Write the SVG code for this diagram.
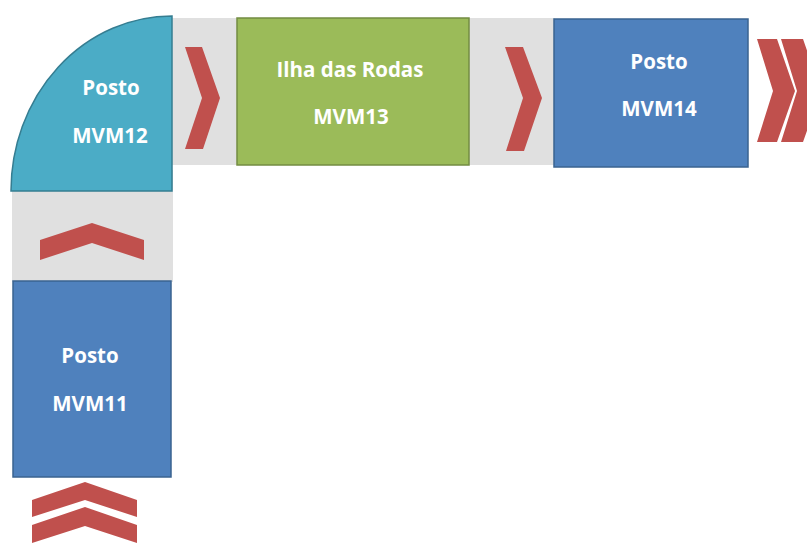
<svg xmlns="http://www.w3.org/2000/svg" width="807" height="543" viewBox="0 0 807 543">
  <style>
    .lane { fill: #e0e0e0; }
    .chev { fill: #c0504d; }
    .blue { fill: #4f81bd; stroke: #3a6390; stroke-width: 1.5; }
    .aqua { fill: #4bacc6; stroke: #357d91; stroke-width: 1.5; }
    .green { fill: #9bbb59; stroke: #738c42; stroke-width: 1.5; }
    .lbl { font-family: "Open Sans", "Liberation Sans", sans-serif; font-weight: bold; font-size: 20.5px; fill: #ffffff; text-anchor: middle; }
  </style>

  <rect width="807" height="543" fill="#ffffff"/>

  <!-- conveyor lanes -->
  <g id="lanes">
    <rect class="lane" x="150" y="18" width="405" height="147"/>
    <rect class="lane" x="12" y="170" width="161" height="112"/>
  </g>

  <!-- flow chevrons -->
  <g id="connectors">
    <polygon class="chev" points="185,47 202,47 220,98 203,149 185,149 202,98"/>
    <polygon class="chev" points="505,47 523,47 542,98 524,151 506,151 523,98"/>
    <polygon class="chev" points="757,39 777,39 795,91 777,142 757,142 773,91"/>
    <polygon class="chev" points="781,39 803,39 821,91 803,142 781,142 797,91"/>
    <polygon class="chev" points="40,240 92,223 144,240 144,260 92,243 40,260"/>
    <polygon class="chev" points="32,500 85,482 137,500 137,517 85,500 32,517"/>
    <polygon class="chev" points="32,525 85,507 137,525 137,543 85,526 32,543"/>
  </g>

  <g id="mvm12">
    <path class="aqua" d="M172,16 L172,191 L11,191 A161,175 0 0 1 172,16 Z"/>
    <text class="lbl" x="111" y="95">Posto</text>
    <text class="lbl" x="110" y="143">MVM12</text>
  </g>

  <g id="mvm13">
    <rect class="green" x="237" y="18" width="232" height="147"/>
    <text class="lbl" x="350" y="77">Ilha das Rodas</text>
    <text class="lbl" x="351" y="124">MVM13</text>
  </g>

  <g id="mvm14">
    <rect class="blue" x="554" y="19" width="194" height="148"/>
    <text class="lbl" x="659" y="69">Posto</text>
    <text class="lbl" x="659" y="116">MVM14</text>
  </g>

  <g id="mvm11">
    <rect class="blue" x="13" y="281" width="158" height="196"/>
    <text class="lbl" x="90" y="363">Posto</text>
    <text class="lbl" x="90" y="411">MVM11</text>
  </g>
</svg>
